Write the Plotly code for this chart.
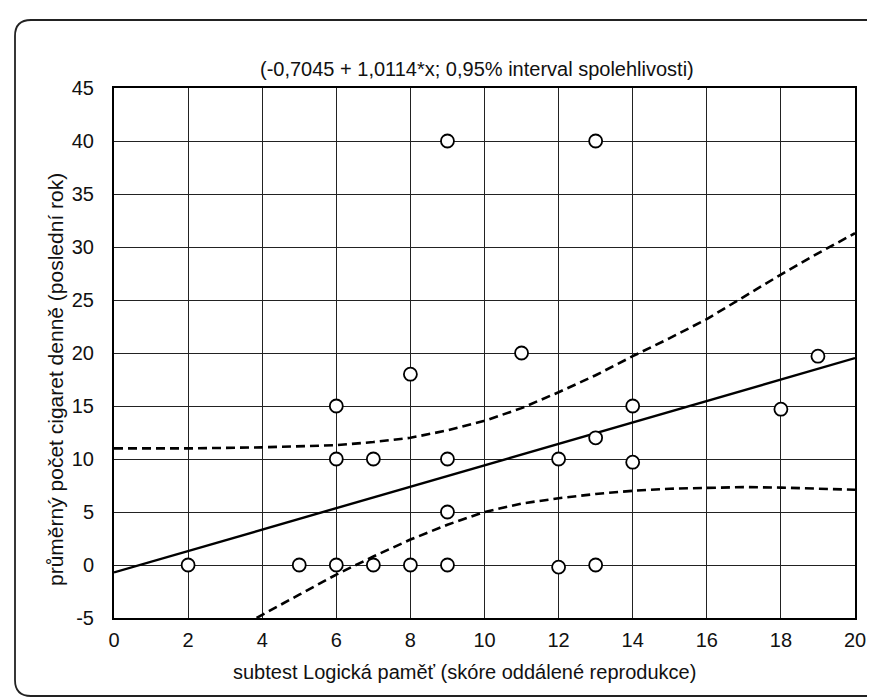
import plotly.graph_objects as go

# ---- data ----
pts_x = [2, 5, 6, 7, 8, 9, 12, 13, 6, 7, 9, 12, 14, 9, 6, 14, 13, 8, 11, 19, 18, 9, 13]
pts_y = [0, 0, 0, 0, 0, 0, -0.2, 0, 10, 10, 10, 10, 9.7, 5, 15, 15, 12, 18, 20, 19.7, 14.7, 40, 40]

intercept = -0.7045
slope = 1.0114
line_x = [0, 20]

upper_x = [0, 2, 4, 6, 7, 8, 9, 10, 11, 12, 13, 14, 15, 16, 17, 18, 19, 20]
upper_y = [11.0, 11.0, 11.1, 11.3, 11.6, 12.0, 12.7, 13.6, 14.8, 16.3, 17.9, 19.7, 21.4, 23.2, 25.3, 27.4, 29.4, 31.3]

lower_x = [3.85, 4, 5, 6, 7, 8, 9, 10, 11, 12, 13, 14, 15, 16, 17, 18, 19, 20]
lower_y = [-5.0, -4.7, -2.8, -0.9, 0.8, 2.4, 3.8, 5.0, 5.8, 6.3, 6.7, 7.0, 7.2, 7.3, 7.35, 7.3, 7.2, 7.1]

x_ticks = [0, 2, 4, 6, 8, 10, 12, 14, 16, 18, 20]
y_ticks = [-5, 0, 5, 10, 15, 20, 25, 30, 35, 40, 45]

title_text = "(-0,7045 + 1,0114*x; 0,95% interval spolehlivosti)"
x_title = "subtest Logická paměť (skóre oddálené reprodukce)"
y_title = "průměrný počet cigaret denně (poslední rok)"

# ---- layout geometry ----
W, H = 875, 698
L, R, T, B = 106, 847, 80, 610
FONT = "Liberation Sans, Arial, sans-serif"


def px(xp):
    return (xp - L) / (R - L)


def py(yp):
    return (B - yp) / (B - T)


fig = go.Figure()

fig.add_trace(go.Scatter(
    x=upper_x, y=upper_y, mode="lines",
    line=dict(color="black", width=2.6, dash="9px,5px"),
    hoverinfo="skip", showlegend=False))
fig.add_trace(go.Scatter(
    x=lower_x, y=lower_y, mode="lines",
    line=dict(color="black", width=2.6, dash="9px,5px"),
    hoverinfo="skip", showlegend=False))
fig.add_trace(go.Scatter(
    x=line_x, y=[intercept + slope * v for v in line_x], mode="lines",
    line=dict(color="black", width=2.4),
    hoverinfo="skip", showlegend=False))
fig.add_trace(go.Scatter(
    x=pts_x, y=pts_y, mode="markers",
    marker=dict(symbol="circle", size=13, color="white",
                line=dict(color="black", width=1.8)),
    showlegend=False))

axis_common = dict(
    showgrid=True, gridcolor="#222222", gridwidth=1,
    zeroline=False, showline=True, linecolor="black", linewidth=2,
    mirror=True, ticks="", ticklen=0,
    tickfont=dict(family=FONT, size=20, color="#111111"),
)

fig.update_xaxes(range=[0, 20], tickvals=x_ticks, ticktext=[str(v) for v in x_ticks],
                 ticklabelstandoff=3, **axis_common)
fig.update_yaxes(range=[-5, 45], tickvals=y_ticks, ticktext=[str(v) for v in y_ticks],
                 ticklabelstandoff=14, **axis_common)

# outer rounded frame (left, top, bottom edges; right edge cut off)
r = 16
frame_path = (
    f"M {px(W + 5)},{py(12)} L {px(7 + r)},{py(12)} "
    f"Q {px(7)},{py(12)} {px(7)},{py(12 + r)} "
    f"L {px(7)},{py(688 - r)} "
    f"Q {px(7)},{py(688)} {px(7 + r)},{py(688)} "
    f"L {px(W + 5)},{py(688)}"
)

fig.update_layout(
    width=W, height=H,
    margin=dict(l=L, r=W - R, t=T, b=H - B),
    paper_bgcolor="white", plot_bgcolor="white",
    font=dict(family=FONT, color="#111111"),
    shapes=[dict(type="path", path=frame_path, xref="paper", yref="paper",
                 line=dict(color="#222222", width=1.8))],
    annotations=[
        dict(text=title_text, x=px(469), y=py(61), xref="paper", yref="paper",
             showarrow=False, font=dict(family=FONT, size=20, color="#111111"),
             xanchor="center", yanchor="middle"),
        dict(text=x_title, x=px(456), y=py(664), xref="paper", yref="paper",
             showarrow=False, font=dict(family=FONT, size=20, color="#111111"),
             xanchor="center", yanchor="middle"),
        dict(text=y_title, x=px(47), y=py(372), xref="paper", yref="paper",
             showarrow=False, textangle=-90,
             font=dict(family=FONT, size=21, color="#111111"),
             xanchor="center", yanchor="middle"),
    ],
)

fig.write_html("out.html")
